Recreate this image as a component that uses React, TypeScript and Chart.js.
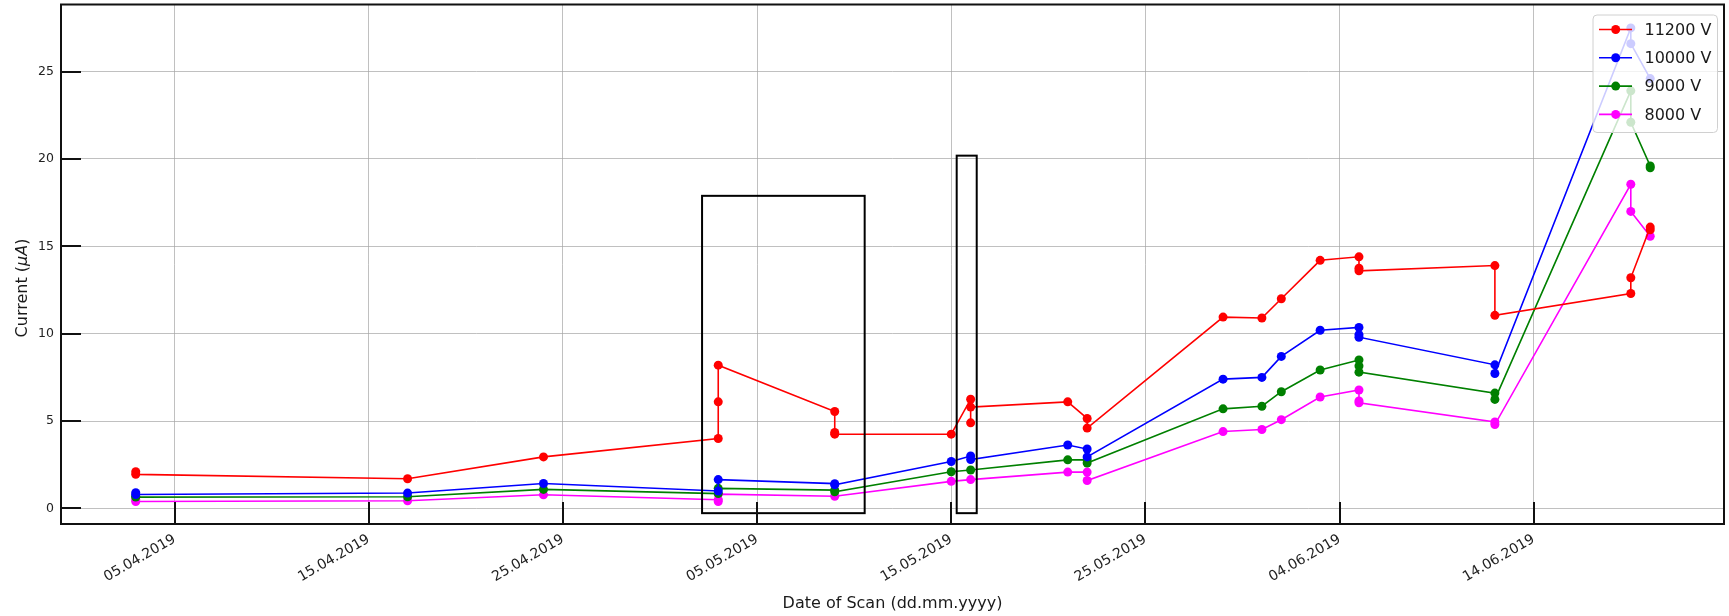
import React, { useEffect, useRef } from "react";
import { Chart, registerables } from "chart.js";

Chart.register(...registerables);

const FONT = "'DejaVu Sans', 'Liberation Sans', sans-serif";

const seriesLabels = ["11200 V", "10000 V", "9000 V", "8000 V"];
const seriesColors = ["#ff0000", "#0000ff", "#008000", "#ff00ff"];

const dates11200 = [
  "2019-04-03", "2019-04-03", "2019-04-17", "2019-04-24",
  "2019-05-03", "2019-05-03", "2019-05-03",
  "2019-05-09", "2019-05-09", "2019-05-09",
  "2019-05-15", "2019-05-16", "2019-05-16", "2019-05-16",
  "2019-05-21", "2019-05-22", "2019-05-22",
  "2019-05-29", "2019-05-31", "2019-06-01", "2019-06-03",
  "2019-06-05", "2019-06-05", "2019-06-05",
  "2019-06-12", "2019-06-12", "2019-06-19", "2019-06-19",
  "2019-06-20", "2019-06-20",
];
const current11200 = [
  2.1, 1.95, 1.7, 2.95,
  4.0, 6.1, 8.2,
  5.55, 4.35, 4.25,
  4.25, 6.25, 4.9, 5.8,
  6.1, 5.15, 4.6,
  10.95, 10.9, 12.0, 14.2,
  14.4, 13.75, 13.6,
  13.9, 11.05, 12.3, 13.2,
  16.1, 15.95,
];

const dates10000 = [
  "2019-04-03", "2019-04-03", "2019-04-17", "2019-04-24",
  "2019-05-03", "2019-05-03", "2019-05-09", "2019-05-09",
  "2019-05-15", "2019-05-16", "2019-05-16",
  "2019-05-21", "2019-05-22", "2019-05-22",
  "2019-05-29", "2019-05-31", "2019-06-01", "2019-06-03",
  "2019-06-05", "2019-06-05", "2019-06-05",
  "2019-06-12", "2019-06-12", "2019-06-19", "2019-06-19",
  "2019-06-20",
];
const current10000 = [
  0.9, 0.8, 0.88, 1.43,
  1.0, 1.65, 1.42, 1.35,
  2.69, 3.0, 2.8,
  3.63, 3.4, 2.95,
  7.4, 7.5, 8.7, 10.2,
  10.36, 9.95, 9.8,
  8.22, 7.72, 27.5, 26.6,
  24.6,
];

const dates9000 = [
  "2019-04-03", "2019-04-03", "2019-04-17", "2019-04-24",
  "2019-05-03", "2019-05-03", "2019-05-09", "2019-05-09",
  "2019-05-15", "2019-05-16",
  "2019-05-21", "2019-05-22", "2019-05-22",
  "2019-05-29", "2019-05-31", "2019-06-01", "2019-06-03",
  "2019-06-05", "2019-06-05", "2019-06-05",
  "2019-06-12", "2019-06-12", "2019-06-19", "2019-06-19",
  "2019-06-20", "2019-06-20",
];
const current9000 = [
  0.7, 0.65, 0.67, 1.09,
  0.85, 1.15, 1.05, 0.95,
  2.1, 2.2,
  2.78, 2.78, 2.6,
  5.7, 5.85, 6.68, 7.92,
  8.5, 8.15, 7.8,
  6.6, 6.24, 23.9, 22.1,
  19.6, 19.5,
];

const dates8000 = [
  "2019-04-03", "2019-04-03", "2019-04-17", "2019-04-24",
  "2019-05-03", "2019-05-03", "2019-05-03", "2019-05-09",
  "2019-05-15", "2019-05-16",
  "2019-05-21", "2019-05-22", "2019-05-22",
  "2019-05-29", "2019-05-31", "2019-06-01", "2019-06-03",
  "2019-06-05", "2019-06-05", "2019-06-05",
  "2019-06-12", "2019-06-12", "2019-06-19", "2019-06-19",
  "2019-06-20",
];
const current8000 = [
  0.5, 0.4, 0.44, 0.78,
  0.5, 0.4, 0.82, 0.7,
  1.55, 1.65,
  2.08, 2.08, 1.6,
  4.4, 4.52, 5.08, 6.38,
  6.78, 6.15, 6.05,
  4.95, 4.8, 18.55, 17.0,
  15.58,
];

const seriesDates = [dates11200, dates10000, dates9000, dates8000];
const seriesValues = [current11200, current10000, current9000, current8000];

const xTickDates = [
  "2019-04-05", "2019-04-15", "2019-04-25", "2019-05-05",
  "2019-05-15", "2019-05-25", "2019-06-04", "2019-06-14",
];
const xTickLabels = [
  "05.04.2019", "15.04.2019", "25.04.2019", "05.05.2019",
  "15.05.2019", "25.05.2019", "04.06.2019", "14.06.2019",
];
const yTickValues = [0, 5, 10, 15, 20, 25];
const xAxisRange = ["2019-03-30T03:36", "2019-06-23T19:12"];
const yAxisRange = [-0.89, 28.84];

const boxStartDates = ["2019-05-02T04:00", "2019-05-15T06:45"];
const boxEndDates = ["2019-05-10T13:00", "2019-05-16T07:30"];
const boxLow = [-0.27, -0.27];
const boxHigh = [17.89, 20.19];

const xAxisTitle = "Date of Scan (dd.mm.yyyy)";
const yAxisTitleParts = ["Current (", "\u03bcA", ")"];

const toDay = (s: string) =>
  Date.parse(s.length === 10 ? s + "T00:00:00Z" : s + ":00Z") / 864e5;

const decorPlugin = {
  id: "decor",
  afterDatasetsDraw(chart: any) {
    const { ctx, chartArea: a, scales } = chart;
    const xs = scales.x;
    const ys = scales.y;
    ctx.save();

    // annotation boxes
    ctx.strokeStyle = "#000";
    ctx.lineWidth = 2;
    for (let i = 0; i < boxStartDates.length; i++) {
      const x0 = xs.getPixelForValue(toDay(boxStartDates[i]));
      const x1 = xs.getPixelForValue(toDay(boxEndDates[i]));
      const y0 = ys.getPixelForValue(boxHigh[i]);
      const y1 = ys.getPixelForValue(boxLow[i]);
      ctx.strokeRect(x0, y0, x1 - x0, y1 - y0);
    }

    // inward ticks
    ctx.lineWidth = 2;
    ctx.strokeStyle = "#111";
    ctx.beginPath();
    xTickDates.forEach((d) => {
      const px = Math.round(xs.getPixelForValue(toDay(d)));
      ctx.moveTo(px, a.bottom);
      ctx.lineTo(px, a.bottom - 22);
    });
    yTickValues.forEach((v) => {
      const py = Math.round(ys.getPixelForValue(v));
      ctx.moveTo(a.left, py);
      ctx.lineTo(a.left + 20, py);
    });
    ctx.stroke();

    // frame
    ctx.lineWidth = 2;
    ctx.strokeStyle = "#111";
    ctx.strokeRect(a.left, a.top, a.right - a.left, a.bottom - a.top);

    // legend
    const bw = 124.5;
    const bh = 117.5;
    const bx = a.right - 6.5 - bw;
    const by = a.top + 10.5;
    ctx.beginPath();
    const r = 4;
    ctx.moveTo(bx + r, by);
    ctx.lineTo(bx + bw - r, by);
    ctx.arcTo(bx + bw, by, bx + bw, by + r, r);
    ctx.lineTo(bx + bw, by + bh - r);
    ctx.arcTo(bx + bw, by + bh, bx + bw - r, by + bh, r);
    ctx.lineTo(bx + r, by + bh);
    ctx.arcTo(bx, by + bh, bx, by + bh - r, r);
    ctx.lineTo(bx, by + r);
    ctx.arcTo(bx, by, bx + r, by, r);
    ctx.closePath();
    ctx.fillStyle = "rgba(255,255,255,0.8)";
    ctx.fill();
    ctx.strokeStyle = "#d0d0d0";
    ctx.lineWidth = 1;
    ctx.stroke();

    ctx.font = `16px ${FONT}`;
    ctx.textBaseline = "middle";
    ctx.textAlign = "left";
    chart.data.datasets.forEach((ds: any, i: number) => {
      const cy = by + 14.5 + i * 28.3;
      ctx.strokeStyle = ds.borderColor;
      ctx.lineWidth = 1.6;
      ctx.beginPath();
      ctx.moveTo(bx + 6, cy);
      ctx.lineTo(bx + 39, cy);
      ctx.stroke();
      ctx.fillStyle = ds.borderColor;
      ctx.beginPath();
      ctx.arc(bx + 22.7, cy, 4.5, 0, Math.PI * 2);
      ctx.fill();
      ctx.fillStyle = "#1a1a1a";
      ctx.fillText(ds.label, bx + 51.5, cy + 1);
    });

    ctx.restore();
  },
  afterDraw(chart: any) {
    const { ctx, chartArea: a } = chart;
    ctx.save();
    ctx.fillStyle = "#1a1a1a";
    // x title
    ctx.font = `16px ${FONT}`;
    ctx.textAlign = "center";
    ctx.textBaseline = "alphabetic";
    ctx.fillText(xAxisTitle, (a.left + a.right) / 2, 608);

    // y title (rotated, with italic mu A)
    ctx.translate(26.5, 288);
    ctx.rotate(-Math.PI / 2);
    const fonts = [`16px ${FONT}`, `italic 16px ${FONT}`, `16px ${FONT}`];
    let total = 0;
    const widths = yAxisTitleParts.map((t, i) => {
      ctx.font = fonts[i];
      const w = ctx.measureText(t).width;
      total += w;
      return w;
    });
    let x = -total / 2;
    ctx.textAlign = "left";
    yAxisTitleParts.forEach((t, i) => {
      ctx.font = fonts[i];
      ctx.fillText(t, x, 0);
      x += widths[i];
    });
    ctx.restore();
  },
};

export default function App() {
  const canvasRef = useRef<HTMLCanvasElement | null>(null);

  useEffect(() => {
    document.body.style.margin = "0";
    const canvas = canvasRef.current;
    if (!canvas) return;

    const datasets = seriesLabels.map((label, i) => ({
      label,
      data: seriesDates[i].map((d, j) => ({ x: toDay(d), y: seriesValues[i][j] })),
      borderColor: seriesColors[i],
      backgroundColor: seriesColors[i],
      pointBackgroundColor: seriesColors[i],
      pointBorderColor: seriesColors[i],
      pointRadius: 4.5,
      pointBorderWidth: 0,
      borderWidth: 1.6,
      tension: 0,
      fill: false,
    }));

    const gridColor = "rgba(165,165,165,0.7)";

    const chart = new Chart(canvas, {
      type: "line",
      data: { datasets },
      options: {
        animation: false,
        responsive: false,
        devicePixelRatio: 1,
        events: [],
        layout: { padding: { top: 4, right: 5, left: 0, bottom: 0 } },
        plugins: {
          legend: { display: false },
          tooltip: { enabled: false },
        },
        scales: {
          x: {
            type: "linear",
            min: toDay(xAxisRange[0]),
            max: toDay(xAxisRange[1]),
            afterBuildTicks: (s: any) => {
              s.ticks = xTickDates.map((d) => ({ value: toDay(d) }));
            },
            afterFit: (s: any) => {
              s.height = 92;
              s.paddingLeft = 0;
              s.paddingRight = 0;
            },
            grid: { color: gridColor, lineWidth: 1, drawTicks: false },
            border: { display: false },
            ticks: {
              autoSkip: false,
              minRotation: 30,
              maxRotation: 30,
              padding: 7,
              color: "#222",
              font: { family: FONT, size: 14 },
              callback: (v: any) => {
                const idx = xTickDates.findIndex((d) => Math.abs(toDay(d) - v) < 1e-6);
                return idx >= 0 ? xTickLabels[idx] : "";
              },
            },
          },
          y: {
            type: "linear",
            min: yAxisRange[0],
            max: yAxisRange[1],
            afterBuildTicks: (s: any) => {
              s.ticks = yTickValues.map((v) => ({ value: v }));
            },
            afterFit: (s: any) => {
              s.width = 61;
              s.paddingTop = 0;
              s.paddingBottom = 0;
            },
            grid: { color: gridColor, lineWidth: 1, drawTicks: false },
            border: { display: false },
            ticks: {
              padding: 7,
              color: "#222",
              font: { family: FONT, size: 12.5 },
              callback: (v: any) => String(v),
            },
          },
        },
      },
      plugins: [decorPlugin],
    });

    return () => {
      chart.destroy();
    };
  }, []);

  return (
    <div style={{ position: "absolute", left: 0, top: 0, width: 1729, height: 616, background: "#fff" }}>
      <canvas ref={canvasRef} width={1729} height={616} style={{ display: "block" }} />
    </div>
  );
}
